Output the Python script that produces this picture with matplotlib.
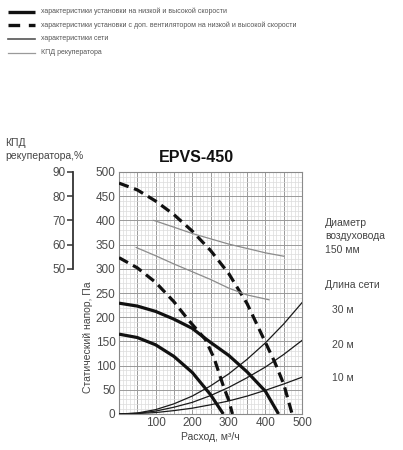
import matplotlib
matplotlib.use("Agg")
import matplotlib.pyplot as plt
from matplotlib.lines import Line2D
from matplotlib.ticker import MultipleLocator

plt.rcParams['font.family'] = ['Liberation Sans', 'DejaVu Sans']

# ---- data ----
# fan curves, flow m3/h -> static pressure Pa
low_x = [0, 50, 100, 150, 200, 250, 285]
low_y = [165, 158, 143, 119, 86, 40, 0]
high_x = [0, 50, 100, 150, 200, 236, 250, 300, 350, 400, 436]
high_y = [229, 223, 212, 196, 177, 156, 148, 121, 87, 47, 0]
dlow_x = [0, 50, 100, 150, 190, 236, 260, 285, 300, 310]
dlow_y = [323, 302, 272, 232, 194, 154, 115, 58, 28, 0]
dhigh_x = [0, 50, 100, 150, 200, 250, 300, 350, 400, 425, 450, 473]
dhigh_y = [477, 463, 440, 412, 378, 338, 290, 228, 148, 108, 62, 0]

# network characteristics
net_x = [0, 50, 100, 150, 200, 250, 300, 350, 400, 450, 500]
net_30 = [0, 2, 9, 21, 37, 58, 83, 113, 147, 186, 230]
net_20 = [0, 1.5, 6, 14, 24, 38, 55, 75, 97, 123, 152]
net_10 = [0, 1, 3, 7, 12, 19, 27, 37, 49, 62, 76]
net_labels = ["30 м", "20 м", "10 м"]

# recuperator efficiency, %
kpd1_x = [95, 150, 200, 250, 300, 350, 400, 450]
kpd1_y = [70, 67.2, 64.6, 62.4, 60.2, 58.4, 56.6, 55.2]
kpd2_x = [47, 100, 150, 200, 250, 300, 350, 410]
kpd2_y = [58.8, 55.4, 52.0, 48.8, 45.6, 42.0, 39.2, 37.2]

x_ticks = [100, 200, 300, 400, 500]
y_ticks = [0, 50, 100, 150, 200, 250, 300, 350, 400, 450, 500]
kpd_ticks = [50, 60, 70, 80, 90]

legend_labels = [
    "характеристики установки на низкой и высокой скорости",
    "характеристики установки с доп. вентилятором на низкой и высокой скорости",
    "характеристики сети",
    "КПД рекуператора",
]

W, H = 403, 450
fig = plt.figure(figsize=(W / 100, H / 100), dpi=100)
fig.patch.set_facecolor("white")

def fx(px):
    return px / W

def fy(py):
    return 1 - py / H

left, right, top, bottom = 119, 302, 172, 414
ax = fig.add_axes([fx(left), fy(bottom), (right - left) / W, (bottom - top) / H])
ax.set_xlim(0, 500)
ax.set_ylim(0, 500)
ax.xaxis.set_minor_locator(MultipleLocator(10))
ax.yaxis.set_minor_locator(MultipleLocator(10))
ax.set_xticks(net_x)
ax.set_xticklabels(["" if v not in x_ticks else str(v) for v in net_x])
ax.set_yticks(y_ticks)
ax.grid(which="minor", color="#dcdcdc", lw=0.5)
ax.grid(which="major", color="#9a9a9a", lw=0.7)
ax.set_axisbelow(True)
ax.tick_params(which="both", length=0, labelsize=8.5, colors="#4a4a4a", pad=2.5)
for s in ax.spines.values():
    s.set_color("#8a8a8a")
    s.set_linewidth(0.8)

black = "#111111"
ax.plot(low_x, low_y, color=black, lw=2.3, solid_capstyle="butt", zorder=4)
ax.plot(high_x, high_y, color=black, lw=2.3, solid_capstyle="butt", zorder=4)
ax.plot(dlow_x, dlow_y, color=black, lw=2.3, dashes=(3.2, 1.8), zorder=4)
ax.plot(dhigh_x, dhigh_y, color=black, lw=2.3, dashes=(3.2, 1.8), zorder=4)
for ny in (net_30, net_20, net_10):
    ax.plot(net_x, ny, color="#1a1a1a", lw=0.9, zorder=3)

# KPD axis
ax2 = ax.twinx()
ax2.set_ylim(-10, 90)
ax2.patch.set_visible(False)
for k in ("top", "right", "bottom"):
    ax2.spines[k].set_visible(False)
ax2.spines["left"].set_visible(True)
ax2.spines["left"].set_position(("axes", -46 / (right - left)))
ax2.spines["left"].set_bounds(50, 90)
ax2.spines["left"].set_color("#333333")
ax2.spines["left"].set_linewidth(1.3)
ax2.yaxis.set_ticks_position("left")
ax2.yaxis.set_label_position("left")
ax2.set_yticks(kpd_ticks)
ax2.tick_params(axis="y", length=4, width=1.1, color="#333333", labelsize=8.5,
                labelcolor="#4a4a4a", pad=1)
ax2.plot(kpd1_x, kpd1_y, color="#8c8c8c", lw=0.9, zorder=3)
ax2.plot(kpd2_x, kpd2_y, color="#8c8c8c", lw=0.9, zorder=3)

tc = "#444444"
fig.text(fx(196), fy(157), "EPVS-450", ha="center", va="center",
         fontsize=11.5, fontweight="bold", color="#111111")
fig.text(fx(88), fy(337), "Статический напор, Па", rotation=90, ha="center",
         va="center", fontsize=7.5, color=tc)
fig.text(fx(210), fy(437), "Расход, м³/ч", ha="center", va="center",
         fontsize=7.5, color=tc)
fig.text(fx(5), fy(143), "КПД", ha="left", va="center", fontsize=7.5, color=tc)
fig.text(fx(5), fy(156), "рекуператора,%", ha="left", va="center",
         fontsize=7.5, color=tc)

fig.text(fx(325), fy(223), "Диаметр", ha="left", va="center", fontsize=7.5, color=tc)
fig.text(fx(325), fy(236), "воздуховода", ha="left", va="center", fontsize=7.5, color=tc)
fig.text(fx(325), fy(250), "150 мм", ha="left", va="center", fontsize=7.5, color=tc)
fig.text(fx(325), fy(285), "Длина сети", ha="left", va="center", fontsize=7.5, color=tc)
for lab, py in zip(net_labels, (310, 345, 378)):
    fig.text(fx(332), fy(py), lab, ha="left", va="center", fontsize=7.5, color=tc)

# legend
leg_y = [11.7, 25, 39, 52.7]
styles = [
    dict(color="#111111", lw=2.4, solid_capstyle="butt"),
    dict(color="#111111", lw=2.4, dashes=(3.5, 2.6)),
    dict(color="#555555", lw=1.2),
    dict(color="#9a9a9a", lw=0.9),
]
for lab, py, st in zip(legend_labels, leg_y, styles):
    fig.add_artist(Line2D([fx(8), fx(35)], [fy(py), fy(py)], transform=fig.transFigure, **st))
    fig.text(fx(41), fy(py), lab, ha="left", va="center", fontsize=5, color="#555555")

fig.savefig("out.png", dpi=100, facecolor="white")
